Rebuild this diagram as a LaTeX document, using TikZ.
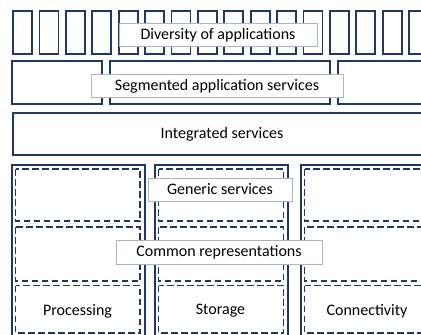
\documentclass[tikz,border=0pt]{standalone}
\usepackage{fontspec}
\setmainfont{Carlito}
\definecolor{navy}{HTML}{203864}
\definecolor{lblborder}{HTML}{A9B4C4}
\begin{document}
\begin{tikzpicture}[x=1pt,y=-1pt,
  solidbox/.style={draw=navy,line width=1.8pt},
  dashbox/.style={draw=navy,line width=1.8pt,dash pattern=on 6.5pt off 3.5pt},
  lbl/.style={draw=lblborder,line width=1pt,fill=white,inner sep=0pt,text depth=2pt,font=\fontsize{16}{19}\selectfont},
  txt/.style={font=\fontsize{16}{19}\selectfont}]
\useasboundingbox (0,0) rectangle (421,335);
% top row of applications
\foreach \i in {0,...,15}{
  \draw[solidbox] ({13+26.4*\i},11) rectangle ({32+26.4*\i},54);
}
% segmented row
\draw[solidbox] (12,61) rectangle (102,104);
\draw[solidbox] (110,61) rectangle (330,104);
\draw[solidbox] (338,61) rectangle (440,104);
% integrated
\node[solidbox,minimum width=430pt,minimum height=42pt,anchor=north west] (integ) at (12,112) {};
\node[txt] (integt) at (222,134) {Integrated services};
% columns
\foreach \x/\w in {12/133,155/133,301/140}{
  \draw[solidbox] (\x,165) rectangle (\x+\w,345);
}
% dashed boxes
\foreach \x/\r in {15.5/140,158.5/283.5,304.5/440}{
  \draw[dashbox] (\x,169) rectangle (\r,221);
  \draw[dashbox] (\x,227) rectangle (\r,281);
  \draw[dashbox] (\x,285.5) rectangle (\r,333);
}
\node[txt] (proc) at (77.5,311) {Processing};
\node[txt] (stor) at (220.5,311) {Storage};
\node[txt] (conn) at (367,311) {Connectivity};
% labels
\node[lbl,minimum width=198pt,minimum height=23pt] (div) at (218,34.5) {Diversity of applications};
\node[lbl,minimum width=252pt,minimum height=23pt] (seg) at (217,85.5) {Segmented application services};
\node[lbl,minimum width=144pt,minimum height=23pt] (gen) at (220,189.5) {Generic services};
\node[lbl,minimum width=206pt,minimum height=24pt] (com) at (219,252) {Common representations};
\end{tikzpicture}
\end{document}
